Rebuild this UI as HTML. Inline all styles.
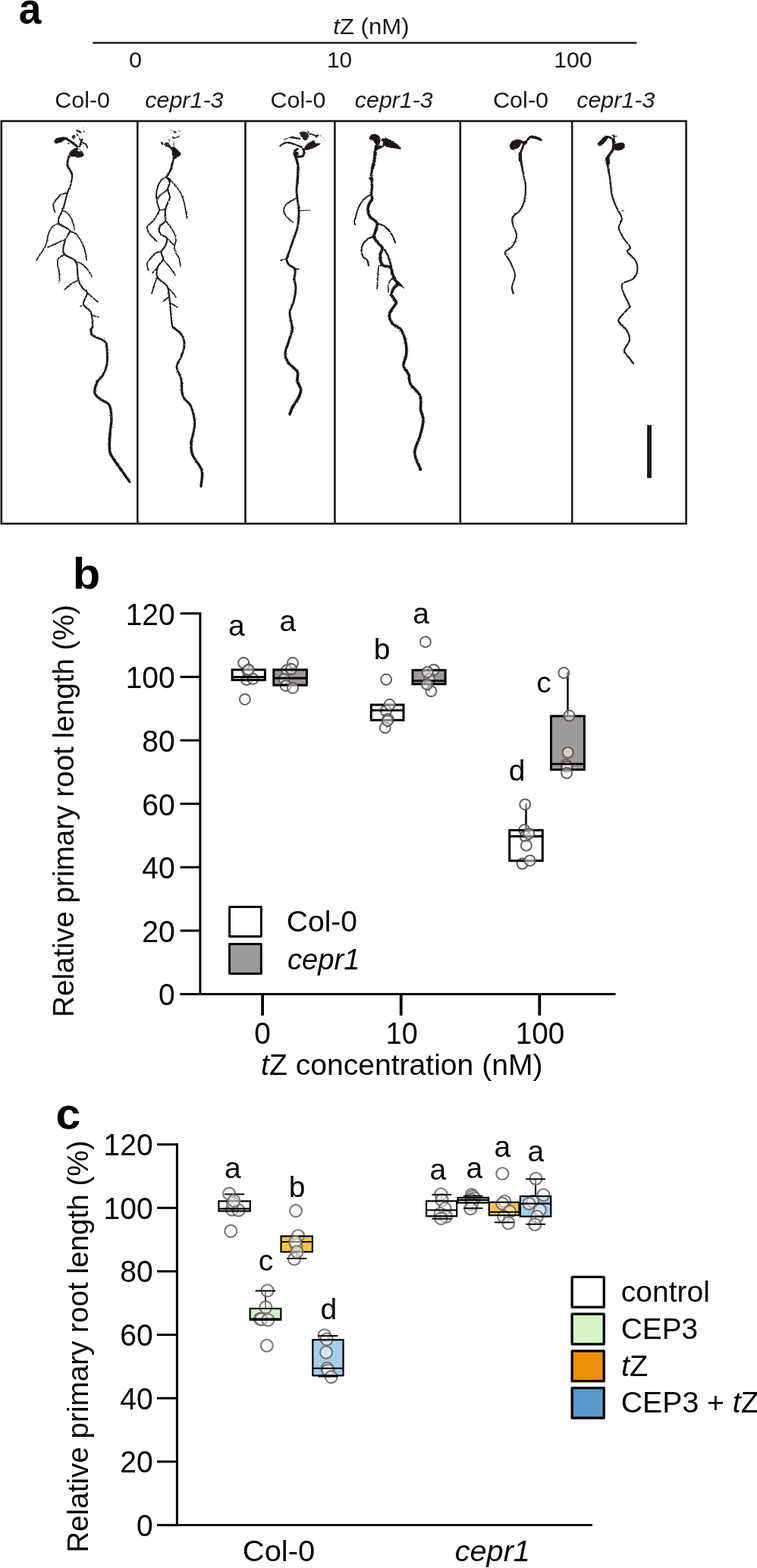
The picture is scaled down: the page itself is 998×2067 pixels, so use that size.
<!DOCTYPE html>
<html lang="en">
<head>
<meta charset="utf-8">
<title>Figure: tZ response of cepr1 roots</title>
<style>
html,body{margin:0;padding:0;background:#fff;}
svg{display:block;}
text{font-family:"Liberation Sans", Arial, Helvetica, sans-serif;fill:#000000;}
.pa text{fill:#1c1815;}
</style>
</head>
<body>
<svg width="998" height="2067" viewBox="0 0 998 2067">
<rect x="0" y="0" width="998" height="2067" fill="#ffffff"/>
<text transform="translate(24.71,31.00) scale(0.9194,1)" font-size="58" font-weight="bold">a</text>
<g style="fill:#1c1815" class="pa">
<text transform="translate(439.35,44.60) scale(1.0547,1)" font-size="29.5"><tspan font-style="italic">t</tspan>Z (nM)</text>
<line x1="122.3" y1="56.5" x2="839.3" y2="56.5" stroke="#1c1815" stroke-width="2.5"/>
<text transform="translate(170.08,88.60) scale(1.0400,1)" font-size="29.5">0</text>
<text transform="translate(430.93,88.60) scale(1.0111,1)" font-size="29.5">10</text>
<text transform="translate(730.19,88.60) scale(1.0245,1)" font-size="29.5">100</text>
<text transform="translate(72.25,142.10) scale(1.0328,1)" font-size="29.5">Col-0</text>
<text transform="translate(356.55,142.10) scale(1.0328,1)" font-size="29.5">Col-0</text>
<text transform="translate(649.94,142.10) scale(1.0387,1)" font-size="29.5">Col-0</text>
<text transform="translate(191.27,142.10) scale(1.0319,1)" font-size="29.5"><tspan font-style="italic">cepr1-3</tspan></text>
<text transform="translate(467.87,142.10) scale(1.0278,1)" font-size="29.5"><tspan font-style="italic">cepr1-3</tspan></text>
<text transform="translate(760.27,142.10) scale(1.0309,1)" font-size="29.5"><tspan font-style="italic">cepr1-3</tspan></text>
</g>
<rect x="1.8" y="159.6" width="902.8000000000001" height="530.6999999999999" fill="none" stroke="#1c1815" stroke-width="2.6"/>
<line x1="181.3" y1="159.6" x2="181.3" y2="690.3" stroke="#1c1815" stroke-width="2.6"/>
<line x1="323.5" y1="159.6" x2="323.5" y2="690.3" stroke="#1c1815" stroke-width="2.6"/>
<line x1="441.4" y1="159.6" x2="441.4" y2="690.3" stroke="#1c1815" stroke-width="2.6"/>
<line x1="606.8" y1="159.6" x2="606.8" y2="690.3" stroke="#1c1815" stroke-width="2.6"/>
<line x1="754.2" y1="159.6" x2="754.2" y2="690.3" stroke="#1c1815" stroke-width="2.6"/>
<rect x="853.1" y="560.3" width="5.8" height="69.9" fill="#1c1815"/>
<defs><filter id="rough" x="-2%" y="-2%" width="104%" height="104%"><feTurbulence type="fractalNoise" baseFrequency="0.8" numOctaves="2" seed="7" result="n"/><feDisplacementMap in="SourceGraphic" in2="n" scale="2.4" xChannelSelector="R" yChannelSelector="G"/></filter></defs><g filter="url(#rough)"><path d="M91.0,206.0 C90.7,208.0 88.3,214.0 89.0,218.0 C89.7,222.0 94.3,225.7 95.0,230.0" fill="none" stroke="#1c1815" stroke-width="2.85" stroke-linecap="round" stroke-linejoin="round"/>
<path d="M95.0,230.0 C95.7,234.3 94.0,240.0 93.0,244.0 C92.0,248.0 90.7,248.7 89.0,254.0 C87.3,259.3 84.8,270.7 83.0,276.0 C81.2,281.3 78.8,282.8 78.0,286.0 C77.2,289.2 75.7,292.0 78.0,295.0 C80.3,298.0 90.7,300.5 92.0,304.0 C93.3,307.5 87.3,311.0 86.0,316.0 C84.7,321.0 81.7,329.2 84.0,334.0 C86.3,338.8 96.8,339.3 100.0,345.0 C103.2,350.7 101.5,362.2 103.0,368.0 C104.5,373.8 107.0,377.0 109.0,380.0 C111.0,383.0 114.8,382.5 115.0,386.0 C115.2,389.5 109.2,396.7 110.0,401.0 C110.8,405.3 118.0,407.2 120.0,412.0 C122.0,416.8 122.0,426.3 122.0,430.0" fill="none" stroke="#1c1815" stroke-width="2.15" stroke-linecap="round" stroke-linejoin="round"/>
<path d="M122.0,430.0 C122.0,433.7 120.0,432.0 120.0,434.0 C120.0,436.0 119.0,439.3 122.0,442.0 C125.0,444.7 134.8,447.0 138.0,450.0 C141.2,453.0 140.5,455.0 141.0,460.0 C141.5,465.0 141.8,474.3 141.0,480.0 C140.2,485.7 138.2,490.0 136.0,494.0 C133.8,498.0 129.8,500.0 128.0,504.0" fill="none" stroke="#1c1815" stroke-width="2.85" stroke-linecap="round" stroke-linejoin="round"/>
<path d="M128.0,504.0 C126.2,508.0 124.3,514.3 125.0,518.0 C125.7,521.7 128.8,523.3 132.0,526.0 C135.2,528.7 141.5,529.7 144.0,534.0 C146.5,538.3 146.8,545.7 147.0,552.0 C147.2,558.3 145.3,564.7 145.0,572.0" fill="none" stroke="#1c1815" stroke-width="3.25" stroke-linecap="round" stroke-linejoin="round"/>
<path d="M145.0,572.0 C144.7,579.3 143.2,589.0 145.0,596.0 C146.8,603.0 151.7,607.5 156.0,614.0 C160.3,620.5 168.5,631.5 171.0,635.0" fill="none" stroke="#1c1815" stroke-width="3.55" stroke-linecap="round" stroke-linejoin="round"/>
<path d="M122.0,430.0 C121.7,430.7 120.0,432.0 120.0,434.0 C120.0,436.0 119.0,439.3 122.0,442.0 C125.0,444.7 134.8,447.0 138.0,450.0 C141.2,453.0 140.5,455.0 141.0,460.0 C141.5,465.0 141.8,474.3 141.0,480.0 C140.2,485.7 138.2,490.0 136.0,494.0 C133.8,498.0 129.8,500.0 128.0,504.0 C126.2,508.0 124.3,514.3 125.0,518.0 C125.7,521.7 128.8,523.3 132.0,526.0 C135.2,528.7 141.5,529.7 144.0,534.0 C146.5,538.3 146.8,545.7 147.0,552.0 C147.2,558.3 145.3,564.7 145.0,572.0 C144.7,579.3 145.0,592.0 145.0,596.0" fill="none" stroke="#1c1815" stroke-opacity="0.2" stroke-width="4.6" stroke-dasharray="0.7 0.9" stroke-linecap="butt"/>
<path d="M89.0,254.0 C87.5,254.5 82.8,255.0 80.0,257.0 C77.2,259.0 73.7,263.8 72.0,266.0 C70.3,268.2 69.9,267.7 70.0,270.0 C70.1,272.3 72.1,278.3 72.5,280.0" fill="none" stroke="#1c1815" stroke-width="1.65" stroke-linecap="round" stroke-linejoin="round"/>
<path d="M83.0,278.0 C83.8,278.3 86.2,278.3 88.0,280.0 C89.8,281.7 92.3,284.7 94.0,288.0 C95.7,291.3 97.3,297.5 98.0,300.0 C98.7,302.5 98.0,302.5 98.0,303.0" fill="none" stroke="#1c1815" stroke-width="1.65" stroke-linecap="round" stroke-linejoin="round"/>
<path d="M78.0,295.0 C76.7,295.5 72.3,295.8 70.0,298.0 C67.7,300.2 65.7,303.7 64.0,308.0 C62.3,312.3 62.7,318.2 60.0,324.0 C57.3,329.8 50.0,339.8 48.0,343.0" fill="none" stroke="#1c1815" stroke-width="1.65" stroke-linecap="round" stroke-linejoin="round"/>
<path d="M92.0,305.0 C93.3,305.5 97.3,305.5 100.0,308.0 C102.7,310.5 105.8,315.7 108.0,320.0 C110.2,324.3 112.0,330.2 113.0,334.0 C114.0,337.8 113.8,341.5 114.0,343.0" fill="none" stroke="#1c1815" stroke-width="1.65" stroke-linecap="round" stroke-linejoin="round"/>
<path d="M86.0,316.0 C85.0,316.3 82.3,317.0 80.0,318.0 C77.7,319.0 74.8,320.7 72.0,322.0 C69.2,323.3 64.5,325.3 63.0,326.0" fill="none" stroke="#1c1815" stroke-width="1.65" stroke-linecap="round" stroke-linejoin="round"/>
<path d="M84.0,336.0 C82.8,336.8 78.3,338.7 77.0,341.0 C75.7,343.3 75.8,347.2 76.0,350.0 C76.2,352.8 77.6,354.3 78.0,358.0 C78.4,361.7 78.4,369.7 78.5,372.0" fill="none" stroke="#1c1815" stroke-width="1.65" stroke-linecap="round" stroke-linejoin="round"/>
<path d="M100.0,345.0 C101.3,345.5 105.3,346.2 108.0,348.0 C110.7,349.8 113.8,353.3 116.0,356.0 C118.2,358.7 120.2,362.7 121.0,364.0" fill="none" stroke="#1c1815" stroke-width="1.65" stroke-linecap="round" stroke-linejoin="round"/>
<path d="M102.0,370.0 C100.7,370.7 96.8,372.0 94.0,374.0 C91.2,376.0 86.5,380.7 85.0,382.0" fill="none" stroke="#1c1815" stroke-width="1.55" stroke-linecap="round" stroke-linejoin="round"/>
<path d="M115.0,386.0 C116.2,387.0 119.7,390.0 122.0,392.0 C124.3,394.0 127.8,397.0 129.0,398.0" fill="none" stroke="#1c1815" stroke-width="1.65" stroke-linecap="round" stroke-linejoin="round"/>
<path d="M110.0,401.0 L106.0,404.0" fill="none" stroke="#1c1815" stroke-width="1.55" stroke-linecap="round" stroke-linejoin="round"/>
<path d="M122.0,416.0 L130.0,418.0" fill="none" stroke="#1c1815" stroke-width="1.55" stroke-linecap="round" stroke-linejoin="round"/>
<path d="M71.9,184.6 C72.9,183.4 76.1,181.7 78.2,181.0 C80.3,180.3 82.9,180.3 84.5,180.5 C86.1,180.7 88.2,181.3 88.0,182.2 C87.8,183.1 85.2,184.8 83.1,185.9 C81.0,187.1 77.2,188.7 75.4,189.1 C73.6,189.5 72.8,189.1 72.2,188.3 C71.6,187.6 70.9,185.8 71.9,184.6Z" fill="#1c1815" fill-opacity="1.0"/>
<path d="M86.5,182.2 C87.6,182.9 91.1,185.2 93.0,186.5 C94.9,187.8 96.5,188.9 98.0,190.0 C99.5,191.1 101.6,192.7 102.3,193.2" fill="none" stroke="#1c1815" stroke-width="2.95" stroke-linecap="round" stroke-linejoin="round"/>
<ellipse cx="90.5" cy="189.2" rx="1.4" ry="0.9" transform="rotate(30 90.5 189.2)" fill="#1c1815" fill-opacity="1.0"/>
<path d="M90.9,203.0 C91.0,201.7 92.9,199.9 94.5,198.5 C96.1,197.1 98.8,195.0 100.7,194.8 C102.6,194.6 104.3,196.1 106.0,197.5 C107.7,198.9 110.2,201.5 110.6,203.0 C111.0,204.5 109.5,205.8 108.5,206.6 C107.5,207.4 106.1,207.8 104.5,207.8 C102.9,207.8 100.8,206.7 99.0,206.5 C97.2,206.3 95.3,207.0 94.0,206.4 C92.7,205.8 90.8,204.3 90.9,203.0Z" fill="#1c1815" fill-opacity="1.0"/>
<ellipse cx="103.8" cy="198.2" rx="2.2" ry="1.2" transform="rotate(20 103.8 198.2)" fill="#ffffff" fill-opacity="1.0"/>
<path d="M108.4,183.7 C108.1,184.5 107.1,186.9 106.5,188.5 C105.9,190.1 105.2,192.4 104.9,193.2" fill="none" stroke="#1c1815" stroke-width="2.35" stroke-linecap="round" stroke-linejoin="round"/>
<path d="M104.9,183.0 C105.6,183.8 107.7,186.8 109.1,188.0 C110.5,189.2 112.3,189.0 113.3,190.2 C114.3,191.4 115.0,194.2 115.3,195.0" fill="none" stroke="#1c1815" stroke-width="1.85" stroke-linecap="round" stroke-linejoin="round"/>
<path d="M100.2,171.3 C100.4,170.9 102.8,171.1 104.0,171.6 C105.2,172.1 107.1,173.5 107.6,174.2 C108.1,174.8 107.6,175.5 106.8,175.5 C106.0,175.5 104.1,175.0 103.0,174.3 C101.9,173.6 100.0,171.8 100.2,171.3Z" fill="#1c1815" fill-opacity="0.9"/>
<path d="M95.2,179.0 C95.8,178.4 97.9,177.9 98.6,178.2 C99.3,178.5 99.7,180.2 99.4,181.0 C99.1,181.8 97.5,182.9 96.8,183.0 C96.1,183.1 95.3,182.2 95.0,181.5 C94.7,180.8 94.6,179.6 95.2,179.0Z" fill="#1c1815" fill-opacity="0.9"/>
<ellipse cx="101.8" cy="177.7" rx="1.8" ry="1.2" transform="rotate(40 101.8 177.7)" fill="#1c1815" fill-opacity="0.85"/>
<ellipse cx="110.5" cy="173.5" rx="1.5" ry="0.9" transform="rotate(60 110.5 173.5)" fill="#1c1815" fill-opacity="0.8"/>
<ellipse cx="104.5" cy="180.5" rx="1.6" ry="0.6" transform="rotate(-10 104.5 180.5)" fill="#1c1815" fill-opacity="0.6"/>
<ellipse cx="109.8" cy="168.6" rx="0.7" ry="0.5" transform="rotate(0 109.8 168.6)" fill="#1c1815" fill-opacity="0.5"/>
<path d="M229.0,208.0 C228.3,210.7 226.5,219.8 225.0,224.0 C223.5,228.2 220.2,230.3 220.0,233.0" fill="none" stroke="#1c1815" stroke-width="2.75" stroke-linecap="round" stroke-linejoin="round"/>
<path d="M220.0,233.0 C219.8,235.7 223.8,237.2 224.0,240.0 C224.2,242.8 221.0,246.7 221.0,250.0 C221.0,253.3 224.5,255.7 224.0,260.0 C223.5,264.3 219.0,270.8 218.0,276.0 C217.0,281.2 219.2,287.3 218.0,291.0 C216.8,294.7 212.2,295.2 211.0,298.0 C209.8,300.8 209.5,305.3 211.0,308.0 C212.5,310.7 218.8,311.3 220.0,314.0 C221.2,316.7 219.2,321.0 218.0,324.0 C216.8,327.0 213.0,329.0 212.5,332.0 C212.0,335.0 215.8,338.7 215.0,342.0 C214.2,345.3 209.2,348.0 208.0,352.0 C206.8,356.0 206.0,361.8 208.0,366.0 C210.0,370.2 217.5,373.0 220.0,377.0 C222.5,381.0 222.2,384.5 223.0,390.0 C223.8,395.5 224.3,403.3 225.0,410.0 C225.7,416.7 226.3,426.3 227.0,430.0" fill="none" stroke="#1c1815" stroke-width="2.15" stroke-linecap="round" stroke-linejoin="round"/>
<path d="M227.0,430.0 C227.7,433.7 226.8,430.0 229.0,432.0 C231.2,434.0 237.7,438.0 240.0,442.0 C242.3,446.0 243.2,451.3 243.0,456.0 C242.8,460.7 240.7,465.3 239.0,470.0 C237.3,474.7 233.0,479.0 233.0,484.0 C233.0,489.0 237.7,493.7 239.0,500.0" fill="none" stroke="#1c1815" stroke-width="2.65" stroke-linecap="round" stroke-linejoin="round"/>
<path d="M239.0,500.0 C240.3,506.3 238.8,516.0 241.0,522.0 C243.2,528.0 249.4,529.7 252.0,536.0 C254.6,542.3 256.6,552.0 256.6,560.0 C256.6,568.0 252.4,577.3 252.0,584.0" fill="none" stroke="#1c1815" stroke-width="3.05" stroke-linecap="round" stroke-linejoin="round"/>
<path d="M252.0,584.0 C251.6,590.7 251.7,594.0 254.0,600.0 C256.3,606.0 264.2,613.2 266.0,620.0 C267.8,626.8 265.2,637.5 265.0,641.0" fill="none" stroke="#1c1815" stroke-width="3.45" stroke-linecap="round" stroke-linejoin="round"/>
<path d="M227.0,430.0 C227.3,430.3 226.8,430.0 229.0,432.0 C231.2,434.0 237.7,438.0 240.0,442.0 C242.3,446.0 243.2,451.3 243.0,456.0 C242.8,460.7 240.7,465.3 239.0,470.0 C237.3,474.7 233.0,479.0 233.0,484.0 C233.0,489.0 237.7,493.7 239.0,500.0 C240.3,506.3 238.8,516.0 241.0,522.0 C243.2,528.0 249.4,529.7 252.0,536.0 C254.6,542.3 256.6,552.0 256.6,560.0 C256.6,568.0 252.4,577.3 252.0,584.0 C251.6,590.7 253.7,597.3 254.0,600.0" fill="none" stroke="#1c1815" stroke-opacity="0.18" stroke-width="4.4" stroke-dasharray="0.7 0.9" stroke-linecap="butt"/>
<path d="M220.0,233.0 C218.8,233.7 215.0,234.8 213.0,237.0 C211.0,239.2 209.2,242.5 208.0,246.0 C206.8,249.5 206.0,254.0 206.0,258.0 C206.0,262.0 207.3,266.8 208.0,270.0 C208.7,273.2 210.8,273.7 210.0,277.0 C209.2,280.3 205.7,286.3 203.0,290.0 C200.3,293.7 195.0,296.0 194.0,299.0 C193.0,302.0 194.9,304.8 197.0,308.0 C199.1,311.2 204.9,316.3 206.5,318.0" fill="none" stroke="#1c1815" stroke-width="1.85" stroke-linecap="round" stroke-linejoin="round"/>
<path d="M221.0,250.0 C219.7,251.0 215.3,254.0 213.0,256.0 C210.7,258.0 208.0,261.0 207.0,262.0" fill="none" stroke="#1c1815" stroke-width="1.65" stroke-linecap="round" stroke-linejoin="round"/>
<path d="M210.0,277.0 L218.0,276.0" fill="none" stroke="#1c1815" stroke-width="1.55" stroke-linecap="round" stroke-linejoin="round"/>
<path d="M220.0,233.0 C221.3,234.3 225.0,237.5 228.0,241.0 C231.0,244.5 235.5,249.5 238.0,254.0 C240.5,258.5 241.6,262.3 243.0,268.0 C244.4,273.7 245.9,284.7 246.5,288.0" fill="none" stroke="#1c1815" stroke-width="1.65" stroke-linecap="round" stroke-linejoin="round"/>
<path d="M218.0,291.0 C219.0,292.2 222.0,295.2 224.0,298.0 C226.0,300.8 228.7,305.0 230.0,308.0 C231.3,311.0 232.0,313.0 232.0,316.0 C232.0,319.0 230.0,323.0 230.0,326.0 C230.0,329.0 231.0,331.7 232.0,334.0 C233.0,336.3 235.0,337.2 236.0,340.0 C237.0,342.8 237.7,349.2 238.0,351.0" fill="none" stroke="#1c1815" stroke-width="1.65" stroke-linecap="round" stroke-linejoin="round"/>
<path d="M220.0,314.0 L230.0,324.0" fill="none" stroke="#1c1815" stroke-width="1.65" stroke-linecap="round" stroke-linejoin="round"/>
<path d="M212.5,332.0 C211.4,332.2 208.2,331.7 206.0,333.0 C203.8,334.3 201.0,337.7 199.0,340.0 C197.0,342.3 194.6,344.2 194.0,347.0 C193.4,349.8 195.3,355.3 195.6,357.0" fill="none" stroke="#1c1815" stroke-width="1.65" stroke-linecap="round" stroke-linejoin="round"/>
<path d="M215.0,342.0 C216.2,343.3 219.8,347.3 222.0,350.0 C224.2,352.7 226.5,355.8 228.0,358.0 C229.5,360.2 230.5,362.2 231.0,363.0" fill="none" stroke="#1c1815" stroke-width="1.65" stroke-linecap="round" stroke-linejoin="round"/>
<path d="M208.0,352.0 L201.0,360.0" fill="none" stroke="#1c1815" stroke-width="1.55" stroke-linecap="round" stroke-linejoin="round"/>
<path d="M207.0,366.0 C206.5,367.3 205.2,370.5 204.0,374.0 C202.8,377.5 200.7,384.8 200.0,387.0" fill="none" stroke="#1c1815" stroke-width="1.55" stroke-linecap="round" stroke-linejoin="round"/>
<path d="M222.0,380.0 C223.0,381.0 226.3,384.0 228.0,386.0 C229.7,388.0 231.3,391.0 232.0,392.0" fill="none" stroke="#1c1815" stroke-width="1.55" stroke-linecap="round" stroke-linejoin="round"/>
<path d="M222.0,392.0 L215.0,397.0" fill="none" stroke="#1c1815" stroke-width="1.55" stroke-linecap="round" stroke-linejoin="round"/>
<path d="M224.0,399.0 L233.7,405.0" fill="none" stroke="#1c1815" stroke-width="1.55" stroke-linecap="round" stroke-linejoin="round"/>
<path d="M227.3,193.4 C228.2,192.7 230.2,194.1 231.6,195.0 C233.0,195.9 234.3,197.7 235.5,199.0 C236.7,200.3 238.6,201.8 238.8,202.9 C239.0,204.0 237.5,204.8 236.5,205.6 C235.5,206.4 234.1,207.1 233.0,207.8 C231.9,208.5 231.1,210.0 230.2,209.8 C229.3,209.6 228.4,208.5 227.8,206.8 C227.2,205.1 226.6,201.7 226.5,199.5 C226.4,197.3 226.5,194.2 227.3,193.4Z" fill="#1c1815" fill-opacity="1.0"/>
<path d="M211.8,187.3 C212.0,186.8 214.0,187.1 214.6,187.6 C215.2,188.1 215.4,189.6 215.2,190.2 C215.0,190.8 213.9,191.4 213.3,190.9 C212.7,190.4 211.6,187.9 211.8,187.3Z" fill="#1c1815" fill-opacity="0.95"/>
<path d="M216.0,190.3 C216.2,189.4 218.0,187.9 219.0,187.6 C220.0,187.3 221.1,187.7 222.0,188.3 C222.9,189.0 223.3,190.3 224.2,191.5 C225.1,192.7 227.1,194.3 227.5,195.5 C227.9,196.7 227.3,198.7 226.5,198.5 C225.7,198.3 223.9,195.4 222.5,194.5 C221.1,193.6 219.1,193.5 218.0,192.8 C216.9,192.1 215.8,191.2 216.0,190.3Z" fill="#1c1815" fill-opacity="0.9"/>
<ellipse cx="230.6" cy="174.0" rx="2.6" ry="1.3" transform="rotate(30 230.6 174.0)" fill="#1c1815" fill-opacity="0.85"/>
<ellipse cx="226.0" cy="172.0" rx="1.6" ry="0.7" transform="rotate(10 226.0 172.0)" fill="#1c1815" fill-opacity="0.55"/>
<ellipse cx="236.2" cy="173.0" rx="1.8" ry="0.7" transform="rotate(35 236.2 173.0)" fill="#1c1815" fill-opacity="0.6"/>
<ellipse cx="238.6" cy="176.3" rx="0.9" ry="0.6" transform="rotate(60 238.6 176.3)" fill="#1c1815" fill-opacity="0.5"/>
<path d="M227.4,180.0 C227.9,179.8 229.5,180.2 230.0,180.6 C230.5,181.0 230.8,182.0 230.6,182.4 C230.4,182.8 229.2,183.0 228.6,182.9 C228.0,182.8 227.4,182.3 227.2,181.8 C227.0,181.3 226.9,180.2 227.4,180.0Z" fill="#1c1815" fill-opacity="0.9"/>
<path d="M230.8,181.8 C231.3,181.6 233.0,181.2 234.0,180.8 C235.0,180.4 236.2,179.6 236.6,179.4" fill="none" stroke="#1c1815" stroke-width="1.25" stroke-linecap="round" stroke-linejoin="round"/>
<ellipse cx="222.6" cy="184.8" rx="1.9" ry="0.9" transform="rotate(35 222.6 184.8)" fill="#1c1815" fill-opacity="0.85"/>
<ellipse cx="217.0" cy="181.5" rx="1.0" ry="0.4" transform="rotate(0 217.0 181.5)" fill="#1c1815" fill-opacity="0.5"/>
<ellipse cx="220.2" cy="181.2" rx="0.8" ry="0.4" transform="rotate(0 220.2 181.2)" fill="#1c1815" fill-opacity="0.5"/>
<ellipse cx="229.6" cy="186.6" rx="1.2" ry="0.6" transform="rotate(0 229.6 186.6)" fill="#1c1815" fill-opacity="0.5"/>
<path d="M229.0,188.5 L229.0,193.0" fill="none" stroke="#1c1815" stroke-width="1.05" stroke-linecap="round" stroke-linejoin="round"/>
<path d="M390.0,207.0 C390.5,209.2 392.7,214.5 393.0,220.0 C393.3,225.5 392.3,235.0 392.0,240.0" fill="none" stroke="#1c1815" stroke-width="3.25" stroke-linecap="round" stroke-linejoin="round"/>
<path d="M392.0,240.0 C391.7,245.0 391.0,246.3 391.0,250.0 C391.0,253.7 391.5,257.3 392.0,262.0 C392.5,266.7 393.9,272.0 394.0,278.0 C394.1,284.0 393.9,291.3 392.6,298.0 C391.3,304.7 387.8,312.7 386.0,318.0 C384.2,323.3 383.3,326.0 382.0,330.0 C380.7,334.0 378.2,338.8 378.0,342.0 C377.8,345.2 379.2,346.8 381.0,349.0 C382.8,351.2 387.8,351.8 389.0,355.0 C390.2,358.2 387.8,363.8 388.0,368.0 C388.2,372.2 390.2,375.0 390.0,380.0 C389.8,385.0 388.3,392.7 387.0,398.0 C385.7,403.3 382.3,406.7 382.0,412.0 C381.7,417.3 384.5,426.0 385.0,430.0" fill="none" stroke="#1c1815" stroke-width="2.75" stroke-linecap="round" stroke-linejoin="round"/>
<path d="M385.0,430.0 C385.5,434.0 385.8,432.3 385.0,436.0 C384.2,439.7 381.5,447.0 380.0,452.0 C378.5,457.0 376.0,461.7 376.0,466.0 C376.0,470.3 377.3,474.0 380.0,478.0" fill="none" stroke="#1c1815" stroke-width="3.15" stroke-linecap="round" stroke-linejoin="round"/>
<path d="M380.0,478.0 C382.7,482.0 390.0,486.0 392.0,490.0 C394.0,494.0 391.2,498.0 392.0,502.0 C392.8,506.0 396.5,510.0 396.6,514.0 C396.7,518.0 394.4,522.3 392.6,526.0 C390.8,529.7 387.8,532.7 386.0,536.0 C384.2,539.3 382.7,544.3 382.0,546.0" fill="none" stroke="#1c1815" stroke-width="3.65" stroke-linecap="round" stroke-linejoin="round"/>
<path d="M390.0,207.0 C390.5,209.2 392.7,214.5 393.0,220.0 C393.3,225.5 392.3,235.0 392.0,240.0 C391.7,245.0 391.0,246.3 391.0,250.0 C391.0,253.7 391.5,257.3 392.0,262.0 C392.5,266.7 393.9,272.0 394.0,278.0 C394.1,284.0 393.9,291.3 392.6,298.0 C391.3,304.7 387.8,312.7 386.0,318.0 C384.2,323.3 383.3,326.0 382.0,330.0 C380.7,334.0 378.2,338.8 378.0,342.0 C377.8,345.2 379.2,346.8 381.0,349.0 C382.8,351.2 387.8,351.8 389.0,355.0 C390.2,358.2 387.8,363.8 388.0,368.0 C388.2,372.2 390.2,375.0 390.0,380.0 C389.8,385.0 388.3,392.7 387.0,398.0 C385.7,403.3 382.3,406.7 382.0,412.0 C381.7,417.3 384.5,426.0 385.0,430.0 C385.5,434.0 385.8,432.3 385.0,436.0 C384.2,439.7 381.5,447.0 380.0,452.0 C378.5,457.0 376.0,461.7 376.0,466.0 C376.0,470.3 377.3,474.0 380.0,478.0 C382.7,482.0 390.0,486.0 392.0,490.0 C394.0,494.0 391.2,498.0 392.0,502.0 C392.8,506.0 396.5,510.0 396.6,514.0 C396.7,518.0 394.4,522.3 392.6,526.0 C390.8,529.7 387.8,532.7 386.0,536.0 C384.2,539.3 382.7,544.3 382.0,546.0" fill="none" stroke="#1c1815" stroke-opacity="0.22" stroke-width="4.8" stroke-dasharray="0.7 0.9" stroke-linecap="butt"/>
<path d="M391.0,261.0 C389.8,261.7 386.3,263.5 384.0,265.0 C381.7,266.5 378.7,267.8 377.0,270.0 C375.3,272.2 373.8,275.3 374.0,278.0 C374.2,280.7 376.0,283.5 378.0,286.0 C380.0,288.5 384.7,291.8 386.0,293.0" fill="none" stroke="#1c1815" stroke-width="1.65" stroke-linecap="round" stroke-linejoin="round"/>
<path d="M394.0,278.0 L408.0,277.0" fill="none" stroke="#1c1815" stroke-width="1.25" stroke-linecap="round" stroke-linejoin="round"/>
<path d="M378.0,341.0 L370.0,343.0" fill="none" stroke="#1c1815" stroke-width="1.55" stroke-linecap="round" stroke-linejoin="round"/>
<path d="M389.0,354.0 L394.0,355.0" fill="none" stroke="#1c1815" stroke-width="1.55" stroke-linecap="round" stroke-linejoin="round"/>
<path d="M369.4,192.4 C370.2,191.8 372.6,189.8 374.4,189.0 C376.2,188.2 377.7,187.6 380.0,187.8 C382.3,188.0 385.2,189.2 388.1,190.2 C391.0,191.2 395.9,193.4 397.5,194.0" fill="none" stroke="#1c1815" stroke-width="2.25" stroke-linecap="round" stroke-linejoin="round"/>
<path d="M383.4,181.2 C384.3,181.3 387.1,181.3 389.0,181.6 C390.9,181.9 394.0,182.7 395.0,182.9" fill="none" stroke="#1c1815" stroke-width="2.35" stroke-linecap="round" stroke-linejoin="round"/>
<path d="M374.0,184.2 C374.8,183.9 377.4,183.1 379.0,182.6 C380.6,182.1 382.7,181.4 383.4,181.2" fill="none" stroke="#1c1815" stroke-width="0.95" stroke-linecap="round" stroke-linejoin="round"/>
<path d="M394.8,175.0 C395.0,173.8 397.5,173.5 399.0,173.4 C400.5,173.3 402.7,173.5 404.0,174.2 C405.3,174.9 406.6,176.3 407.0,177.5 C407.4,178.7 407.2,180.2 406.6,181.5 C406.0,182.8 404.5,184.6 403.5,185.0 C402.5,185.4 401.5,184.9 400.5,184.2 C399.5,183.4 398.6,182.0 397.6,180.5 C396.7,179.0 394.6,176.2 394.8,175.0Z" fill="#1c1815" fill-opacity="0.95"/>
<path d="M405.2,174.2 C405.0,173.8 406.1,171.8 406.5,171.9 C406.9,172.0 407.8,174.2 407.6,174.6 C407.4,175.0 405.4,174.6 405.2,174.2Z" fill="#1c1815" fill-opacity="1.0"/>
<path d="M407.3,175.6 C408.0,175.9 410.0,176.9 411.5,177.4 C413.0,177.9 415.3,178.6 416.1,178.8" fill="none" stroke="#1c1815" stroke-width="1.55" stroke-linecap="round" stroke-linejoin="round"/>
<path d="M415.4,178.0 C415.8,177.5 417.1,177.1 418.0,177.2 C418.9,177.3 420.6,178.1 420.8,178.6 C421.0,179.1 419.7,179.4 419.0,180.0 C418.3,180.6 417.4,181.9 416.8,182.0 C416.2,182.1 415.8,181.1 415.6,180.4 C415.4,179.7 415.0,178.5 415.4,178.0Z" fill="#1c1815" fill-opacity="0.9"/>
<ellipse cx="423.2" cy="179.2" rx="1.3" ry="0.6" transform="rotate(30 423.2 179.2)" fill="#1c1815" fill-opacity="0.55"/>
<ellipse cx="426.6" cy="181.8" rx="1.1" ry="0.6" transform="rotate(60 426.6 181.8)" fill="#1c1815" fill-opacity="0.5"/>
<ellipse cx="428.6" cy="185.2" rx="0.9" ry="0.6" transform="rotate(70 428.6 185.2)" fill="#1c1815" fill-opacity="0.45"/>
<path d="M400.9,195.9 C400.9,194.6 402.8,191.8 404.9,190.0 C407.0,188.2 411.9,185.4 413.7,185.1 C415.4,184.8 413.9,187.7 415.4,188.4 C416.9,189.1 422.2,188.4 422.6,189.2 C423.0,190.0 419.4,191.9 417.7,193.0 C415.9,194.1 414.2,195.0 412.1,195.8 C410.0,196.6 406.8,197.8 404.9,197.8 C403.0,197.8 400.9,197.2 400.9,195.9Z" fill="#1c1815" fill-opacity="1.0"/>
<path d="M392.1,196.3 C391.5,196.9 388.8,198.2 388.3,199.7 C387.8,201.1 388.0,203.8 388.9,205.0 C389.8,206.2 391.9,206.6 393.7,206.6 C395.5,206.6 398.6,206.4 399.8,205.0 C401.0,203.6 400.8,199.7 400.7,198.3 C400.6,196.9 399.7,196.9 399.5,196.6" fill="none" stroke="#1c1815" stroke-width="2.95" stroke-linecap="round" stroke-linejoin="round"/>
<ellipse cx="391.0" cy="202.5" rx="2.6" ry="2.8" transform="rotate(0 391.0 202.5)" fill="#1c1815" fill-opacity="1.0"/>
<path d="M495.5,195.0 C495.2,197.5 494.4,205.5 493.6,210.0 C492.9,214.5 491.7,218.7 491.0,222.0" fill="none" stroke="#1c1815" stroke-width="3.95" stroke-linecap="round" stroke-linejoin="round"/>
<path d="M491.0,222.0 C490.3,225.3 489.7,226.2 489.6,230.0 C489.5,233.8 490.6,240.5 490.6,245.0 C490.6,249.5 489.6,254.2 489.6,257.0 C489.6,259.8 491.2,259.8 490.6,262.0" fill="none" stroke="#1c1815" stroke-width="3.05" stroke-linecap="round" stroke-linejoin="round"/>
<path d="M490.6,262.0 C490.0,264.2 487.0,267.3 486.1,270.0 C485.2,272.7 484.8,275.3 485.1,278.0 C485.4,280.7 486.1,283.3 488.1,286.0 C490.1,288.7 495.9,291.0 497.1,294.0 C498.3,297.0 495.8,301.0 495.1,304.0 C494.4,307.0 492.8,309.5 493.1,312.0 C493.4,314.5 495.3,316.5 497.1,319.0 C498.9,321.5 503.4,324.2 504.1,327.0" fill="none" stroke="#1c1815" stroke-width="3.65" stroke-linecap="round" stroke-linejoin="round"/>
<path d="M504.1,327.0 C504.8,329.8 501.4,333.0 501.1,336.0 C500.8,339.0 501.4,342.7 502.1,345.0 C502.8,347.3 502.9,348.7 505.1,350.0 C507.3,351.3 513.1,351.0 515.1,352.7 C517.1,354.4 516.3,357.4 517.1,360.0 C517.9,362.6 518.9,365.7 520.1,368.0 C521.3,370.3 524.3,372.0 524.1,374.0 C523.9,376.0 520.4,377.7 519.1,380.0 C517.8,382.3 515.9,385.5 516.1,388.0 C516.3,390.5 519.1,393.0 520.1,395.0 C521.1,397.0 523.0,397.2 522.0,400.0" fill="none" stroke="#1c1815" stroke-width="3.75" stroke-linecap="round" stroke-linejoin="round"/>
<path d="M522.0,400.0 C521.0,402.8 515.3,408.7 514.0,412.0 C512.7,415.3 513.3,417.5 514.0,420.0 C514.7,422.5 515.5,424.5 518.0,427.0 C520.5,429.5 526.2,430.8 529.0,435.0 C531.8,439.2 533.9,446.5 535.0,452.0 C536.1,457.5 536.1,463.0 535.6,468.0 C535.1,473.0 531.4,477.7 532.0,482.0 C532.6,486.3 537.5,490.0 539.0,494.0 C540.5,498.0 538.5,501.3 541.0,506.0 C543.5,510.7 551.7,516.3 554.0,522.0 C556.3,527.7 553.9,534.7 554.6,540.0 C555.3,545.3 558.1,548.3 558.0,554.0 C557.9,559.7 555.9,566.8 554.0,574.0 C552.1,581.2 546.5,589.5 546.6,597.0 C546.7,604.5 553.3,615.3 554.6,619.0" fill="none" stroke="#1c1815" stroke-width="3.55" stroke-linecap="round" stroke-linejoin="round"/>
<path d="M495.5,195.0 C495.2,197.5 494.4,205.5 493.6,210.0 C492.9,214.5 491.7,218.7 491.0,222.0 C490.3,225.3 489.7,226.2 489.6,230.0 C489.5,233.8 490.6,240.5 490.6,245.0 C490.6,249.5 489.6,254.2 489.6,257.0 C489.6,259.8 491.2,259.8 490.6,262.0 C490.0,264.2 487.0,267.3 486.1,270.0 C485.2,272.7 484.8,275.3 485.1,278.0 C485.4,280.7 486.1,283.3 488.1,286.0 C490.1,288.7 495.9,291.0 497.1,294.0 C498.3,297.0 495.8,301.0 495.1,304.0 C494.4,307.0 492.8,309.5 493.1,312.0 C493.4,314.5 495.3,316.5 497.1,319.0 C498.9,321.5 503.4,324.2 504.1,327.0 C504.8,329.8 501.4,333.0 501.1,336.0 C500.8,339.0 501.4,342.7 502.1,345.0 C502.8,347.3 502.9,348.7 505.1,350.0 C507.3,351.3 513.1,351.0 515.1,352.7 C517.1,354.4 516.3,357.4 517.1,360.0 C517.9,362.6 518.9,365.7 520.1,368.0 C521.3,370.3 524.3,372.0 524.1,374.0 C523.9,376.0 520.4,377.7 519.1,380.0 C517.8,382.3 515.9,385.5 516.1,388.0 C516.3,390.5 519.1,393.0 520.1,395.0 C521.1,397.0 523.0,397.2 522.0,400.0 C521.0,402.8 515.3,408.7 514.0,412.0 C512.7,415.3 513.3,417.5 514.0,420.0 C514.7,422.5 515.5,424.5 518.0,427.0 C520.5,429.5 526.2,430.8 529.0,435.0 C531.8,439.2 533.9,446.5 535.0,452.0 C536.1,457.5 536.1,463.0 535.6,468.0 C535.1,473.0 531.4,477.7 532.0,482.0 C532.6,486.3 537.5,490.0 539.0,494.0 C540.5,498.0 538.5,501.3 541.0,506.0 C543.5,510.7 551.7,516.3 554.0,522.0 C556.3,527.7 553.9,534.7 554.6,540.0 C555.3,545.3 558.1,548.3 558.0,554.0 C557.9,559.7 555.9,566.8 554.0,574.0 C552.1,581.2 546.5,589.5 546.6,597.0 C546.7,604.5 553.3,615.3 554.6,619.0" fill="none" stroke="#1c1815" stroke-opacity="0.2" stroke-width="5.2" stroke-dasharray="0.7 0.9" stroke-linecap="butt"/>
<ellipse cx="489.6" cy="235.8" rx="2.6" ry="2.3" transform="rotate(0 489.6 235.8)" fill="#1c1815" fill-opacity="1.0"/>
<path d="M507.1,329.0 C507.9,330.7 510.8,335.7 512.1,339.0 C513.4,342.3 514.4,346.7 515.1,349.0 C515.8,351.3 515.9,352.1 516.1,352.7" fill="none" stroke="#1c1815" stroke-width="2.45" stroke-linecap="round" stroke-linejoin="round"/>
<path d="M488.1,257.0 C487.3,257.5 485.0,258.5 483.1,260.0 C481.2,261.5 478.9,263.5 477.0,266.0 C475.1,268.5 473.3,271.7 472.0,275.0 C470.7,278.3 469.8,283.2 469.0,286.0 C468.2,288.8 467.1,290.3 467.0,292.0 C466.9,293.7 468.2,295.3 468.5,296.0" fill="none" stroke="#1c1815" stroke-width="1.85" stroke-linecap="round" stroke-linejoin="round"/>
<path d="M497.1,294.6 C498.4,295.0 502.6,295.6 505.1,297.0 C507.6,298.4 509.9,300.5 512.1,303.0 C514.3,305.5 516.6,309.2 518.1,312.0 C519.6,314.8 520.6,318.7 521.1,320.0" fill="none" stroke="#1c1815" stroke-width="1.95" stroke-linecap="round" stroke-linejoin="round"/>
<path d="M492.6,311.7 C491.4,312.2 487.4,313.4 485.1,315.0 C482.8,316.6 480.4,318.5 479.0,321.0 C477.6,323.5 476.5,327.0 476.5,330.0 C476.5,333.0 477.7,336.8 479.0,339.0 C480.3,341.2 483.0,341.2 484.1,343.0 C485.2,344.8 485.6,348.8 485.9,350.0" fill="none" stroke="#1c1815" stroke-width="2.15" stroke-linecap="round" stroke-linejoin="round"/>
<path d="M502.1,350.0 C501.6,350.3 499.8,349.5 499.1,352.0 C498.4,354.5 498.4,360.2 498.1,365.0 C497.8,369.8 497.3,378.3 497.1,381.0" fill="none" stroke="#1c1815" stroke-width="1.65" stroke-linecap="round" stroke-linejoin="round"/>
<path d="M517.1,367.0 C516.4,367.8 514.0,370.2 513.1,372.0 C512.2,373.8 511.7,375.8 511.6,378.0 C511.5,380.2 512.2,383.8 512.3,385.0" fill="none" stroke="#1c1815" stroke-width="1.55" stroke-linecap="round" stroke-linejoin="round"/>
<path d="M521.5,370.5 C522.0,369.8 523.8,369.6 525.8,371.2 C527.8,372.8 533.1,379.2 533.4,380.2 C533.7,381.2 529.3,378.0 527.5,377.2 C525.7,376.4 523.5,376.6 522.5,375.5 C521.5,374.4 521.0,371.2 521.5,370.5Z" fill="#1c1815" fill-opacity="1.0"/>
<path d="M514.0,389.3 L516.6,388.6" fill="none" stroke="#1c1815" stroke-width="1.35" stroke-linecap="round" stroke-linejoin="round"/>
<path d="M486.8,182.9 C486.5,181.6 488.7,178.6 490.0,177.6 C491.3,176.6 493.2,176.4 494.8,176.7 C496.4,177.0 498.6,178.0 499.7,179.2 C500.8,180.3 501.3,181.9 501.4,183.6 C501.5,185.3 501.2,187.9 500.5,189.3 C499.8,190.7 498.4,191.9 497.3,191.8 C496.2,191.7 494.9,189.6 494.0,188.5 C493.1,187.4 492.8,186.2 491.6,185.3 C490.4,184.4 487.1,184.2 486.8,182.9Z" fill="#1c1815" fill-opacity="1.0"/>
<path d="M502.3,185.2 C502.6,183.5 504.3,181.8 506.9,181.9 C509.5,182.0 514.5,183.8 518.1,186.0 C521.7,188.2 527.0,193.1 528.6,194.9 C530.2,196.7 528.9,196.4 527.7,196.6 C526.5,196.8 523.7,196.1 521.3,195.8 C518.9,195.5 516.0,195.3 513.3,194.6 C510.6,193.9 507.1,193.4 505.3,191.8 C503.5,190.2 502.0,186.8 502.3,185.2Z" fill="#1c1815" fill-opacity="1.0"/>
<path d="M494.5,191.0 C495.5,190.2 498.0,191.6 500.0,191.8 C502.0,192.0 506.0,191.7 506.5,192.2 C507.0,192.7 504.5,194.2 503.0,195.0 C501.5,195.8 499.0,196.9 497.5,197.2 C496.0,197.4 494.7,197.5 494.2,196.5 C493.7,195.5 493.5,191.8 494.5,191.0Z" fill="#1c1815" fill-opacity="1.0"/>
<ellipse cx="503.1" cy="188.3" rx="1.9" ry="2.8" transform="rotate(15 503.1 188.3)" fill="#ffffff" fill-opacity="1.0"/>
<path d="M687.0,210.0 C687.5,213.3 689.0,224.0 690.0,230.0 C691.0,236.0 692.8,240.0 693.0,246.0 C693.2,252.0 692.3,260.7 691.0,266.0 C689.7,271.3 687.5,274.7 685.0,278.0 C682.5,281.3 677.5,283.0 676.0,286.0 C674.5,289.0 675.2,292.0 676.0,296.0 C676.8,300.0 681.0,305.3 681.0,310.0 C681.0,314.7 678.5,320.2 676.0,324.0 C673.5,327.8 666.4,329.7 665.7,333.0 C665.0,336.3 669.8,339.2 672.0,344.0 C674.2,348.8 678.5,356.3 679.0,362.0 C679.5,367.7 675.4,373.8 675.0,378.0 C674.6,382.2 676.3,385.5 676.6,387.0" fill="none" stroke="#1c1815" stroke-width="1.95" stroke-linecap="round" stroke-linejoin="round"/>
<path d="M689.5,226.0 C689.9,228.3 691.4,236.0 692.0,240.0 C692.6,244.0 693.1,246.0 693.0,250.0 C692.9,254.0 692.7,259.5 691.5,264.0 C690.3,268.5 688.2,273.7 686.0,277.0 C683.8,280.3 679.7,281.2 678.0,284.0 C676.3,286.8 676.3,292.3 676.0,294.0" fill="none" stroke="#1c1815" stroke-opacity="0.28" stroke-width="4.6" stroke-dasharray="0.7 0.9" stroke-linecap="butt"/>
<path d="M668.0,331.0 C668.7,333.2 670.7,340.2 672.0,344.0 C673.3,347.8 675.3,352.3 676.0,354.0" fill="none" stroke="#1c1815" stroke-opacity="0.22" stroke-width="3.6" stroke-dasharray="0.7 0.9" stroke-linecap="butt"/>
<ellipse cx="679.4" cy="190.6" rx="8.4" ry="5.9" transform="rotate(-37 679.4 190.6)" fill="#1c1815" fill-opacity="1.0"/>
<path d="M685.5,186.2 C686.2,186.4 688.7,187.4 690.0,187.6 C691.3,187.8 692.8,187.6 693.4,187.6" fill="none" stroke="#1c1815" stroke-width="3.95" stroke-linecap="round" stroke-linejoin="round"/>
<path d="M692.6,188.4 C693.1,187.7 694.5,185.7 695.6,184.4 C696.7,183.1 698.4,181.2 699.0,180.6" fill="none" stroke="#1c1815" stroke-width="2.85" stroke-linecap="round" stroke-linejoin="round"/>
<path d="M698.2,180.9 C698.0,180.4 699.1,179.2 700.7,179.1 C702.3,178.9 705.6,179.4 707.7,180.0 C709.8,180.6 712.1,181.6 713.3,182.4 C714.5,183.2 714.9,184.0 714.9,184.6 C714.9,185.2 714.4,185.9 713.3,185.8 C712.2,185.7 710.3,184.6 708.4,184.0 C706.5,183.4 703.8,182.8 702.1,182.3 C700.4,181.8 698.4,181.4 698.2,180.9Z" fill="#1c1815" fill-opacity="1.0"/>
<path d="M691.0,189.2 C690.5,190.5 688.9,194.5 688.0,197.0 C687.1,199.5 685.8,202.8 685.4,204.0" fill="none" stroke="#1c1815" stroke-width="2.85" stroke-linecap="round" stroke-linejoin="round"/>
<path d="M685.8,203.5 L685.9,211.0" fill="none" stroke="#1c1815" stroke-width="4.55" stroke-linecap="round" stroke-linejoin="round"/>
<path d="M686.5,210.5 C686.7,211.8 687.4,215.6 687.8,218.0 C688.2,220.4 688.8,223.8 689.0,225.0" fill="none" stroke="#1c1815" stroke-width="2.55" stroke-linecap="round" stroke-linejoin="round"/>
<path d="M800.0,212.0 C800.7,215.7 802.8,226.3 804.0,234.0 C805.2,241.7 805.3,251.0 807.0,258.0 C808.7,265.0 811.8,271.0 814.0,276.0 C816.2,281.0 819.7,284.0 820.0,288.0 C820.3,292.0 815.4,295.7 815.7,300.0 C816.0,304.3 819.5,309.7 822.0,314.0 C824.5,318.3 830.2,323.0 831.0,326.0 C831.8,329.0 825.8,329.0 827.0,332.0 C828.2,335.0 835.8,339.7 838.0,344.0 C840.2,348.3 840.7,354.0 840.0,358.0 C839.3,362.0 837.0,365.5 834.0,368.0 C831.0,370.5 824.4,371.3 822.0,373.0 C819.6,374.7 819.5,375.3 819.7,378.0 C819.9,380.7 821.6,385.1 823.2,389.0" fill="none" stroke="#1c1815" stroke-width="2.05" stroke-linecap="round" stroke-linejoin="round"/>
<path d="M823.2,389.0 C824.9,392.9 828.4,398.9 829.6,401.5 C830.8,404.1 830.8,403.7 830.6,404.6 C830.4,405.5 830.6,404.4 828.2,407.0 C825.8,409.6 818.3,416.8 816.4,420.0 C814.5,423.2 815.4,423.5 817.0,426.0 C818.6,428.5 823.8,431.3 826.0,435.0 C828.2,438.7 830.5,443.5 830.0,448.0 C829.5,452.5 823.2,458.2 823.0,462.0 C822.8,465.8 827.0,468.2 829.0,471.0 C831.0,473.8 834.0,477.7 835.0,479.0" fill="none" stroke="#1c1815" stroke-width="2.25" stroke-linecap="round" stroke-linejoin="round"/>
<path d="M803.0,228.0 C803.3,230.7 804.2,238.7 805.0,244.0 C805.8,249.3 806.3,255.3 807.5,260.0 C808.7,264.7 810.4,268.3 812.0,272.0 C813.6,275.7 816.2,280.3 817.0,282.0" fill="none" stroke="#1c1815" stroke-opacity="0.28" stroke-width="4.4" stroke-dasharray="0.7 0.9" stroke-linecap="butt"/>
<path d="M820.0,278.0 L822.5,278.0" fill="none" stroke="#1c1815" stroke-width="1.15" stroke-linecap="round" stroke-linejoin="round"/>
<path d="M788.0,189.3 C788.6,188.2 790.7,186.1 792.0,184.6 C793.3,183.1 794.6,181.1 796.0,180.2 C797.4,179.2 799.2,178.8 800.2,178.9 C801.2,179.0 802.5,179.6 802.3,180.8 C802.1,182.0 800.0,184.5 798.8,186.0 C797.6,187.5 796.2,188.5 795.0,189.6 C793.8,190.7 792.6,192.5 791.5,192.8 C790.4,193.1 789.2,192.0 788.6,191.4 C788.0,190.8 787.4,190.4 788.0,189.3Z" fill="#1c1815" fill-opacity="1.0"/>
<path d="M801.4,180.2 C802.3,180.6 805.4,181.3 806.6,182.6 C807.8,183.9 808.3,187.1 808.6,188.0" fill="none" stroke="#1c1815" stroke-width="2.55" stroke-linecap="round" stroke-linejoin="round"/>
<path d="M807.3,178.9 L812.7,179.9" fill="none" stroke="#1c1815" stroke-width="1.65" stroke-linecap="round" stroke-linejoin="round"/>
<path d="M809.4,178.9 L809.4,186.0" fill="none" stroke="#1c1815" stroke-width="1.95" stroke-linecap="round" stroke-linejoin="round"/>
<path d="M810.0,190.2 C810.7,189.0 812.5,189.1 814.3,188.7 C816.1,188.3 819.1,187.8 820.6,188.0 C822.1,188.2 823.0,189.2 823.5,190.2 C824.0,191.2 824.2,192.7 823.8,193.8 C823.4,194.9 822.4,196.0 821.3,196.7 C820.2,197.4 818.7,197.9 817.1,198.1 C815.5,198.3 812.7,198.5 811.5,198.1 C810.3,197.7 810.1,197.2 809.9,195.9 C809.6,194.6 809.3,191.4 810.0,190.2Z" fill="#1c1815" fill-opacity="1.0"/>
<path d="M809.3,185.5 C809.1,187.3 809.2,193.5 808.2,196.6 C807.2,199.7 804.9,201.6 803.5,203.8 C802.1,206.0 800.4,208.8 799.8,209.8" fill="none" stroke="#1c1815" stroke-width="3.45" stroke-linecap="round" stroke-linejoin="round"/>
<path d="M801.0,208.5 L801.4,215.0" fill="none" stroke="#1c1815" stroke-width="5.35" stroke-linecap="round" stroke-linejoin="round"/>
<path d="M800.8,214.5 C800.9,215.4 801.4,218.2 801.6,220.0 C801.9,221.8 802.2,224.2 802.3,225.0" fill="none" stroke="#1c1815" stroke-width="2.85" stroke-linecap="round" stroke-linejoin="round"/></g>
<text transform="translate(95.81,775.90) scale(1.0291,1)" font-size="58" font-weight="bold">b</text>
<text transform="translate(96.80,1341.02) rotate(-90) scale(0.9748,1)" font-size="39.7">Relative primary root length (%)</text>
<line x1="263.9" y1="807.2" x2="263.9" y2="1312.0" stroke="#000000" stroke-width="3.0"/>
<line x1="237.6" y1="1310.5" x2="263.9" y2="1310.5" stroke="#000000" stroke-width="3.0"/>
<text transform="translate(208.98,1325.40) scale(0.9630,1)" font-size="40.5">0</text>
<line x1="237.6" y1="1226.8666666666668" x2="263.9" y2="1226.8666666666668" stroke="#000000" stroke-width="3.0"/>
<text transform="translate(187.31,1241.77) scale(0.9630,1)" font-size="40.5">20</text>
<line x1="237.6" y1="1143.2333333333333" x2="263.9" y2="1143.2333333333333" stroke="#000000" stroke-width="3.0"/>
<text transform="translate(187.31,1158.13) scale(0.9630,1)" font-size="40.5">40</text>
<line x1="237.6" y1="1059.6" x2="263.9" y2="1059.6" stroke="#000000" stroke-width="3.0"/>
<text transform="translate(187.31,1074.50) scale(0.9630,1)" font-size="40.5">60</text>
<line x1="237.6" y1="975.9666666666667" x2="263.9" y2="975.9666666666667" stroke="#000000" stroke-width="3.0"/>
<text transform="translate(187.31,990.87) scale(0.9630,1)" font-size="40.5">80</text>
<line x1="237.6" y1="892.3333333333334" x2="263.9" y2="892.3333333333334" stroke="#000000" stroke-width="3.0"/>
<text transform="translate(165.64,907.23) scale(0.9630,1)" font-size="40.5">100</text>
<line x1="237.6" y1="808.7" x2="263.9" y2="808.7" stroke="#000000" stroke-width="3.0"/>
<text transform="translate(165.64,823.60) scale(0.9630,1)" font-size="40.5">120</text>
<line x1="237.6" y1="1310.5" x2="811.6" y2="1310.5" stroke="#000000" stroke-width="2.9"/>
<line x1="346.1" y1="1310.6" x2="346.1" y2="1338.7" stroke="#000000" stroke-width="3.8"/>
<line x1="528.7" y1="1310.6" x2="528.7" y2="1338.7" stroke="#000000" stroke-width="3.8"/>
<line x1="711.3" y1="1310.6" x2="711.3" y2="1338.7" stroke="#000000" stroke-width="3.8"/>
<text transform="translate(335.24,1376.30) scale(0.9600,1)" font-size="40.5">0</text>
<text transform="translate(508.69,1376.30) scale(0.9313,1)" font-size="40.5">10</text>
<text transform="translate(679.71,1376.30) scale(0.9559,1)" font-size="40.5">100</text>
<text transform="translate(344.05,1417.40) scale(1.0025,1)" font-size="39.0"><tspan font-style="italic">t</tspan>Z concentration (nM)</text>
<rect x="306.1" y="882.9" width="43.299999999999955" height="13.5" fill="#ffffff"/>
<line x1="327.75" y1="881.4" x2="327.75" y2="872.8" stroke="#000000" stroke-width="2.5"/>
<circle cx="321.2" cy="873.8" r="7.0" fill="#ffffff" fill-opacity="0.5" stroke="#5a5453" stroke-opacity="0.92" stroke-width="2.0"/>
<circle cx="325.1" cy="896.1" r="7.0" fill="#ffffff" fill-opacity="0.5" stroke="#5a5453" stroke-opacity="0.92" stroke-width="2.0"/>
<circle cx="333.5" cy="894.9" r="7.0" fill="#ffffff" fill-opacity="0.5" stroke="#5a5453" stroke-opacity="0.92" stroke-width="2.0"/>
<circle cx="326.5" cy="884.6" r="7.0" fill="#ffffff" fill-opacity="0.5" stroke="#5a5453" stroke-opacity="0.92" stroke-width="2.0"/>
<circle cx="322.9" cy="921.9" r="7.0" fill="#ffffff" fill-opacity="0.5" stroke="#5a5453" stroke-opacity="0.92" stroke-width="2.0"/>
<rect x="306.1" y="882.9" width="43.299999999999955" height="13.5" fill="none" stroke="#000000" stroke-width="3.0"/>
<line x1="306.1" y1="892.5" x2="349.4" y2="892.5" stroke="#000000" stroke-width="2.8499999999999996"/>
<circle cx="327.7" cy="882.8" r="7.0" fill="#ffffff" fill-opacity="0.5" stroke="#5a5453" stroke-opacity="0.92" stroke-width="2.0"/>
<rect x="360.8" y="882.9" width="43.599999999999966" height="20.300000000000068" fill="#9c9a98"/>
<line x1="382.6" y1="881.4" x2="382.6" y2="873.5" stroke="#000000" stroke-width="2.5"/>
<circle cx="386" cy="873.8" r="7.0" fill="#ffffff" fill-opacity="0.5" stroke="#5a5453" stroke-opacity="0.92" stroke-width="2.0"/>
<circle cx="378.0" cy="883.4" r="7.0" fill="#ffffff" fill-opacity="0.5" stroke="#5a5453" stroke-opacity="0.92" stroke-width="2.0"/>
<circle cx="384.0" cy="882.0" r="7.0" fill="#ffffff" fill-opacity="0.5" stroke="#5a5453" stroke-opacity="0.92" stroke-width="2.0"/>
<circle cx="374.4" cy="894.9" r="7.0" fill="#ffffff" fill-opacity="0.5" stroke="#5a5453" stroke-opacity="0.92" stroke-width="2.0"/>
<circle cx="376.8" cy="903.9" r="7.0" fill="#ffffff" fill-opacity="0.5" stroke="#5a5453" stroke-opacity="0.92" stroke-width="2.0"/>
<rect x="360.8" y="882.9" width="43.599999999999966" height="20.300000000000068" fill="none" stroke="#000000" stroke-width="3.0"/>
<line x1="360.8" y1="894.0" x2="404.4" y2="894.0" stroke="#000000" stroke-width="2.8499999999999996"/>
<circle cx="386.0" cy="906.9" r="7.0" fill="#ffffff" fill-opacity="0.5" stroke="#5a5453" stroke-opacity="0.92" stroke-width="2.0"/>
<rect x="489.3" y="929.1" width="42.69999999999999" height="20.199999999999932" fill="#ffffff"/>
<line x1="510.65" y1="950.8" x2="510.65" y2="959.5" stroke="#000000" stroke-width="2.5"/>
<circle cx="509.1" cy="895.8" r="7.0" fill="#ffffff" fill-opacity="0.5" stroke="#5a5453" stroke-opacity="0.92" stroke-width="2.0"/>
<circle cx="508.9" cy="937.0" r="7.0" fill="#ffffff" fill-opacity="0.5" stroke="#5a5453" stroke-opacity="0.92" stroke-width="2.0"/>
<circle cx="511.4" cy="948.0" r="7.0" fill="#ffffff" fill-opacity="0.5" stroke="#5a5453" stroke-opacity="0.92" stroke-width="2.0"/>
<circle cx="507.7" cy="959.3" r="7.0" fill="#ffffff" fill-opacity="0.5" stroke="#5a5453" stroke-opacity="0.92" stroke-width="2.0"/>
<rect x="489.3" y="929.1" width="42.69999999999999" height="20.199999999999932" fill="none" stroke="#000000" stroke-width="3.0"/>
<line x1="489.3" y1="936.4" x2="532.0" y2="936.4" stroke="#000000" stroke-width="2.8499999999999996"/>
<circle cx="513.7" cy="928.8" r="7.0" fill="#ffffff" fill-opacity="0.5" stroke="#5a5453" stroke-opacity="0.92" stroke-width="2.0"/>
<circle cx="511.0" cy="950.2" r="7.0" fill="#ffffff" fill-opacity="0.5" stroke="#5a5453" stroke-opacity="0.92" stroke-width="2.0"/>
<rect x="544.0" y="883.4" width="43.10000000000002" height="18.399999999999977" fill="#9c9a98"/>
<line x1="565.55" y1="903.3" x2="565.55" y2="911.0" stroke="#000000" stroke-width="2.5"/>
<circle cx="560.9" cy="846.2" r="7.0" fill="#ffffff" fill-opacity="0.5" stroke="#5a5453" stroke-opacity="0.92" stroke-width="2.0"/>
<circle cx="572.0" cy="882.9" r="7.0" fill="#ffffff" fill-opacity="0.5" stroke="#5a5453" stroke-opacity="0.92" stroke-width="2.0"/>
<circle cx="566.0" cy="895.5" r="7.0" fill="#ffffff" fill-opacity="0.5" stroke="#5a5453" stroke-opacity="0.92" stroke-width="2.0"/>
<circle cx="568.4" cy="911.2" r="7.0" fill="#ffffff" fill-opacity="0.5" stroke="#5a5453" stroke-opacity="0.92" stroke-width="2.0"/>
<rect x="544.0" y="883.4" width="43.10000000000002" height="18.399999999999977" fill="none" stroke="#000000" stroke-width="3.0"/>
<line x1="544.0" y1="897.3" x2="587.1" y2="897.3" stroke="#000000" stroke-width="2.8499999999999996"/>
<circle cx="563.6" cy="885.9" r="7.0" fill="#ffffff" fill-opacity="0.5" stroke="#5a5453" stroke-opacity="0.92" stroke-width="2.0"/>
<circle cx="563.0" cy="902.1" r="7.0" fill="#ffffff" fill-opacity="0.5" stroke="#5a5453" stroke-opacity="0.92" stroke-width="2.0"/>
<rect x="671.7" y="1094.4" width="43.59999999999991" height="40.299999999999955" fill="#ffffff"/>
<line x1="693.5" y1="1092.9" x2="693.5" y2="1059.2" stroke="#000000" stroke-width="2.5"/>
<circle cx="692.2" cy="1060.4" r="7.0" fill="#ffffff" fill-opacity="0.5" stroke="#5a5453" stroke-opacity="0.92" stroke-width="2.0"/>
<circle cx="691.3" cy="1094.1" r="7.0" fill="#ffffff" fill-opacity="0.5" stroke="#5a5453" stroke-opacity="0.92" stroke-width="2.0"/>
<circle cx="692.5" cy="1102.5" r="7.0" fill="#ffffff" fill-opacity="0.5" stroke="#5a5453" stroke-opacity="0.92" stroke-width="2.0"/>
<circle cx="693.9" cy="1114.5" r="7.0" fill="#ffffff" fill-opacity="0.5" stroke="#5a5453" stroke-opacity="0.92" stroke-width="2.0"/>
<circle cx="688.6" cy="1138.6" r="7.0" fill="#ffffff" fill-opacity="0.5" stroke="#5a5453" stroke-opacity="0.92" stroke-width="2.0"/>
<rect x="671.7" y="1094.4" width="43.59999999999991" height="40.299999999999955" fill="none" stroke="#000000" stroke-width="3.0"/>
<line x1="671.7" y1="1102.5" x2="715.3" y2="1102.5" stroke="#000000" stroke-width="2.8499999999999996"/>
<circle cx="697.3" cy="1098.9" r="7.0" fill="#ffffff" fill-opacity="0.5" stroke="#5a5453" stroke-opacity="0.92" stroke-width="2.0"/>
<circle cx="698.7" cy="1134.4" r="7.0" fill="#ffffff" fill-opacity="0.5" stroke="#5a5453" stroke-opacity="0.92" stroke-width="2.0"/>
<rect x="726.5" y="944.0" width="43.89999999999998" height="70.60000000000002" fill="#9c9a98"/>
<line x1="748.45" y1="942.5" x2="748.45" y2="885.6" stroke="#000000" stroke-width="2.5"/>
<circle cx="743.3" cy="887.1" r="7.0" fill="#ffffff" fill-opacity="0.5" stroke="#5a5453" stroke-opacity="0.92" stroke-width="2.0"/>
<circle cx="748.7" cy="992.0" r="7.0" fill="#ffffff" fill-opacity="0.5" stroke="#5a5453" stroke-opacity="0.92" stroke-width="2.0"/>
<circle cx="746.3" cy="1008.3" r="7.0" fill="#ffffff" fill-opacity="0.5" stroke="#5a5453" stroke-opacity="0.92" stroke-width="2.0"/>
<circle cx="747.5" cy="1010.5" r="7.0" fill="#ffffff" fill-opacity="0.5" stroke="#5a5453" stroke-opacity="0.92" stroke-width="2.0"/>
<rect x="726.5" y="944.0" width="43.89999999999998" height="70.60000000000002" fill="none" stroke="#000000" stroke-width="3.0"/>
<line x1="726.5" y1="1007.1" x2="770.4" y2="1007.1" stroke="#000000" stroke-width="2.8499999999999996"/>
<circle cx="750.5" cy="943.6" r="7.0" fill="#ffffff" fill-opacity="0.5" stroke="#5a5453" stroke-opacity="0.92" stroke-width="2.0"/>
<circle cx="747.1" cy="1019.1" r="7.0" fill="#ffffff" fill-opacity="0.5" stroke="#5a5453" stroke-opacity="0.92" stroke-width="2.0"/>
<text transform="translate(300.91,837.70)" font-size="39.0">a</text>
<text transform="translate(368.61,831.50)" font-size="39.0">a</text>
<text transform="translate(492.69,868.70)" font-size="39.0">b</text>
<text transform="translate(544.21,821.70)" font-size="39.0">a</text>
<text transform="translate(670.73,1029.30)" font-size="39.0">d</text>
<text transform="translate(707.24,913.10)" font-size="39.0">c</text>
<rect x="302.55" y="1195.55" width="41.800000000000004" height="38.9" fill="#ffffff" stroke="#000000" stroke-width="2.9" stroke-linejoin="round"/>
<rect x="302.55" y="1244.55" width="41.800000000000004" height="38.9" fill="#9c9a98" stroke="#000000" stroke-width="2.9" stroke-linejoin="round"/>
<text transform="translate(377.80,1228.40) scale(0.9997,1)" font-size="39.0">Col-0</text>
<text transform="translate(378.97,1278.20) scale(0.9806,1)" font-size="39.0"><tspan font-style="italic">cepr1</tspan></text>
<text transform="translate(73.61,1488.20) scale(1.0195,1)" font-size="58" font-weight="bold">c</text>
<text transform="translate(116.10,2046.81) rotate(-90) scale(0.9737,1)" font-size="39.7">Relative primary root length (%)</text>
<line x1="233.4" y1="1507.2" x2="233.4" y2="2011.9" stroke="#000000" stroke-width="3.0"/>
<line x1="207.0" y1="2010.4" x2="233.4" y2="2010.4" stroke="#000000" stroke-width="3.0"/>
<text transform="translate(179.88,2024.80) scale(0.9630,1)" font-size="40.5">0</text>
<line x1="207.0" y1="1926.7833333333333" x2="233.4" y2="1926.7833333333333" stroke="#000000" stroke-width="3.0"/>
<text transform="translate(158.21,1941.18) scale(0.9630,1)" font-size="40.5">20</text>
<line x1="207.0" y1="1843.1666666666667" x2="233.4" y2="1843.1666666666667" stroke="#000000" stroke-width="3.0"/>
<text transform="translate(158.21,1857.57) scale(0.9630,1)" font-size="40.5">40</text>
<line x1="207.0" y1="1759.5500000000002" x2="233.4" y2="1759.5500000000002" stroke="#000000" stroke-width="3.0"/>
<text transform="translate(158.21,1773.95) scale(0.9630,1)" font-size="40.5">60</text>
<line x1="207.0" y1="1675.9333333333334" x2="233.4" y2="1675.9333333333334" stroke="#000000" stroke-width="3.0"/>
<text transform="translate(158.21,1690.33) scale(0.9630,1)" font-size="40.5">80</text>
<line x1="207.0" y1="1592.3166666666666" x2="233.4" y2="1592.3166666666666" stroke="#000000" stroke-width="3.0"/>
<text transform="translate(136.54,1606.72) scale(0.9630,1)" font-size="40.5">100</text>
<line x1="207.0" y1="1508.7" x2="233.4" y2="1508.7" stroke="#000000" stroke-width="3.0"/>
<text transform="translate(136.54,1523.10) scale(0.9630,1)" font-size="40.5">120</text>
<line x1="207.0" y1="2010.4" x2="780.9" y2="2010.4" stroke="#000000" stroke-width="2.9"/>
<text transform="translate(319.85,2058.30) scale(1.0232,1)" font-size="39.0">Col-0</text>
<text transform="translate(599.63,2058.30) scale(1.0183,1)" font-size="39.0"><tspan font-style="italic">cepr1</tspan></text>
<rect x="288.40000000000003" y="1583.3999999999999" width="41.39999999999996" height="13.099999999999955" fill="#ffffff"/>
<line x1="309.1" y1="1582.3" x2="309.1" y2="1574.3" stroke="#000000" stroke-width="1.9"/>
<circle cx="302.1" cy="1573.6" r="8.0" fill="#ffffff" fill-opacity="0.5" stroke="#6e6968" stroke-opacity="0.9" stroke-width="2.1"/>
<circle cx="305.8" cy="1594.6" r="8.0" fill="#ffffff" fill-opacity="0.5" stroke="#6e6968" stroke-opacity="0.9" stroke-width="2.1"/>
<circle cx="314.4" cy="1595.4" r="8.0" fill="#ffffff" fill-opacity="0.5" stroke="#6e6968" stroke-opacity="0.9" stroke-width="2.1"/>
<circle cx="307.0" cy="1586.0" r="8.0" fill="#ffffff" fill-opacity="0.5" stroke="#6e6968" stroke-opacity="0.9" stroke-width="2.1"/>
<circle cx="304.3" cy="1622.9" r="8.0" fill="#ffffff" fill-opacity="0.5" stroke="#6e6968" stroke-opacity="0.9" stroke-width="2.1"/>
<line x1="296.0" y1="1574.3" x2="322.20000000000005" y2="1574.3" stroke="#000000" stroke-width="1.9"/>
<rect x="288.40000000000003" y="1583.3999999999999" width="41.39999999999996" height="13.099999999999955" fill="none" stroke="#000000" stroke-width="2.2"/>
<line x1="288.40000000000003" y1="1593.4" x2="329.79999999999995" y2="1593.4" stroke="#000000" stroke-width="2.09"/>
<circle cx="308.4" cy="1582.9" r="8.0" fill="#ffffff" fill-opacity="0.5" stroke="#6e6968" stroke-opacity="0.9" stroke-width="2.1"/>
<rect x="329.6" y="1725.0" width="40.699999999999974" height="14.89999999999991" fill="#d5f3c5"/>
<line x1="349.95" y1="1723.9" x2="349.95" y2="1701.6" stroke="#000000" stroke-width="1.9"/>
<circle cx="352.6" cy="1701.3" r="8.0" fill="#ffffff" fill-opacity="0.5" stroke="#6e6968" stroke-opacity="0.9" stroke-width="2.1"/>
<circle cx="350.3" cy="1723.4" r="8.0" fill="#ffffff" fill-opacity="0.5" stroke="#6e6968" stroke-opacity="0.9" stroke-width="2.1"/>
<circle cx="342.8" cy="1738.5" r="8.0" fill="#ffffff" fill-opacity="0.5" stroke="#6e6968" stroke-opacity="0.9" stroke-width="2.1"/>
<circle cx="344.3" cy="1739.2" r="8.0" fill="#ffffff" fill-opacity="0.5" stroke="#6e6968" stroke-opacity="0.9" stroke-width="2.1"/>
<circle cx="353.3" cy="1740.0" r="8.0" fill="#ffffff" fill-opacity="0.5" stroke="#6e6968" stroke-opacity="0.9" stroke-width="2.1"/>
<circle cx="351.8" cy="1773.8" r="8.0" fill="#ffffff" fill-opacity="0.5" stroke="#6e6968" stroke-opacity="0.9" stroke-width="2.1"/>
<line x1="336.65" y1="1701.6" x2="363.25" y2="1701.6" stroke="#000000" stroke-width="1.9"/>
<rect x="329.6" y="1725.0" width="40.699999999999974" height="14.89999999999991" fill="none" stroke="#000000" stroke-width="2.2"/>
<line x1="329.6" y1="1738.6" x2="370.29999999999995" y2="1738.6" stroke="#000000" stroke-width="2.09"/>
<rect x="370.5" y="1629.6" width="41.40000000000002" height="20.70000000000009" fill="#f9c440"/>
<line x1="391.2" y1="1651.4" x2="391.2" y2="1659.0" stroke="#000000" stroke-width="1.9"/>
<circle cx="390.0" cy="1596.1" r="8.0" fill="#ffffff" fill-opacity="0.5" stroke="#6e6968" stroke-opacity="0.9" stroke-width="2.1"/>
<circle cx="393.0" cy="1629.2" r="8.0" fill="#ffffff" fill-opacity="0.5" stroke="#6e6968" stroke-opacity="0.9" stroke-width="2.1"/>
<circle cx="390.5" cy="1641.0" r="8.0" fill="#ffffff" fill-opacity="0.5" stroke="#6e6968" stroke-opacity="0.9" stroke-width="2.1"/>
<circle cx="388.0" cy="1659.6" r="8.0" fill="#ffffff" fill-opacity="0.5" stroke="#6e6968" stroke-opacity="0.9" stroke-width="2.1"/>
<line x1="378.2" y1="1659.0" x2="404.2" y2="1659.0" stroke="#000000" stroke-width="1.9"/>
<rect x="370.5" y="1629.6" width="41.40000000000002" height="20.70000000000009" fill="none" stroke="#000000" stroke-width="2.2"/>
<line x1="370.5" y1="1637.0" x2="411.9" y2="1637.0" stroke="#000000" stroke-width="2.09"/>
<circle cx="389.2" cy="1637.5" r="8.0" fill="#ffffff" fill-opacity="0.5" stroke="#6e6968" stroke-opacity="0.9" stroke-width="2.1"/>
<circle cx="391.5" cy="1650.2" r="8.0" fill="#ffffff" fill-opacity="0.5" stroke="#6e6968" stroke-opacity="0.9" stroke-width="2.1"/>
<rect x="412.3" y="1766.1999999999998" width="40.20000000000003" height="47.10000000000018" fill="#a4cfe8"/>
<line x1="432.4" y1="1765.1" x2="432.4" y2="1761.0" stroke="#000000" stroke-width="1.9"/>
<line x1="432.4" y1="1814.4" x2="432.4" y2="1814.6" stroke="#000000" stroke-width="1.9"/>
<circle cx="427.7" cy="1760.2" r="8.0" fill="#ffffff" fill-opacity="0.5" stroke="#6e6968" stroke-opacity="0.9" stroke-width="2.1"/>
<circle cx="430.7" cy="1765.5" r="8.0" fill="#ffffff" fill-opacity="0.5" stroke="#6e6968" stroke-opacity="0.9" stroke-width="2.1"/>
<circle cx="430.0" cy="1782.8" r="8.0" fill="#ffffff" fill-opacity="0.5" stroke="#6e6968" stroke-opacity="0.9" stroke-width="2.1"/>
<circle cx="431.5" cy="1803.8" r="8.0" fill="#ffffff" fill-opacity="0.5" stroke="#6e6968" stroke-opacity="0.9" stroke-width="2.1"/>
<circle cx="432.5" cy="1806.5" r="8.0" fill="#ffffff" fill-opacity="0.5" stroke="#6e6968" stroke-opacity="0.9" stroke-width="2.1"/>
<circle cx="436.7" cy="1815.1" r="8.0" fill="#ffffff" fill-opacity="0.5" stroke="#6e6968" stroke-opacity="0.9" stroke-width="2.1"/>
<line x1="419.29999999999995" y1="1761.0" x2="445.5" y2="1761.0" stroke="#000000" stroke-width="1.9"/>
<line x1="419.29999999999995" y1="1814.6" x2="445.5" y2="1814.6" stroke="#000000" stroke-width="1.9"/>
<rect x="412.3" y="1766.1999999999998" width="40.20000000000003" height="47.10000000000018" fill="none" stroke="#000000" stroke-width="2.2"/>
<line x1="412.3" y1="1803.8" x2="452.5" y2="1803.8" stroke="#000000" stroke-width="2.09"/>
<rect x="562.1" y="1583.3" width="40.09999999999995" height="19.89999999999991" fill="#ffffff"/>
<line x1="582.15" y1="1582.2" x2="582.15" y2="1574.8" stroke="#000000" stroke-width="1.9"/>
<line x1="582.15" y1="1604.3" x2="582.15" y2="1606.6" stroke="#000000" stroke-width="1.9"/>
<circle cx="581.4" cy="1574.2" r="8.0" fill="#ffffff" fill-opacity="0.5" stroke="#6e6968" stroke-opacity="0.9" stroke-width="2.1"/>
<circle cx="582.7" cy="1582.2" r="8.0" fill="#ffffff" fill-opacity="0.5" stroke="#6e6968" stroke-opacity="0.9" stroke-width="2.1"/>
<circle cx="586.6" cy="1593.3" r="8.0" fill="#ffffff" fill-opacity="0.5" stroke="#6e6968" stroke-opacity="0.9" stroke-width="2.1"/>
<circle cx="580.5" cy="1600.0" r="8.0" fill="#ffffff" fill-opacity="0.5" stroke="#6e6968" stroke-opacity="0.9" stroke-width="2.1"/>
<circle cx="588.1" cy="1603.8" r="8.0" fill="#ffffff" fill-opacity="0.5" stroke="#6e6968" stroke-opacity="0.9" stroke-width="2.1"/>
<circle cx="581.4" cy="1606.2" r="8.0" fill="#ffffff" fill-opacity="0.5" stroke="#6e6968" stroke-opacity="0.9" stroke-width="2.1"/>
<line x1="569.35" y1="1574.8" x2="594.9499999999999" y2="1574.8" stroke="#000000" stroke-width="1.9"/>
<line x1="569.35" y1="1606.6" x2="594.9499999999999" y2="1606.6" stroke="#000000" stroke-width="1.9"/>
<rect x="562.1" y="1583.3" width="40.09999999999995" height="19.89999999999991" fill="none" stroke="#000000" stroke-width="2.2"/>
<line x1="562.1" y1="1595.2" x2="602.1999999999999" y2="1595.2" stroke="#000000" stroke-width="2.09"/>
<rect x="603.5" y="1578.8" width="40.600000000000065" height="6.699999999999863" fill="#d5f3c5"/>
<line x1="623.8" y1="1577.7" x2="623.8" y2="1576.6" stroke="#000000" stroke-width="1.9"/>
<line x1="623.8" y1="1586.6" x2="623.8" y2="1592.7" stroke="#000000" stroke-width="1.9"/>
<circle cx="621.8" cy="1575.0" r="8.0" fill="#ffffff" fill-opacity="0.5" stroke="#6e6968" stroke-opacity="0.9" stroke-width="2.1"/>
<circle cx="623.3" cy="1577.1" r="8.0" fill="#ffffff" fill-opacity="0.5" stroke="#6e6968" stroke-opacity="0.9" stroke-width="2.1"/>
<circle cx="625.0" cy="1579.5" r="8.0" fill="#ffffff" fill-opacity="0.5" stroke="#6e6968" stroke-opacity="0.9" stroke-width="2.1"/>
<circle cx="621.4" cy="1581.9" r="8.0" fill="#ffffff" fill-opacity="0.5" stroke="#6e6968" stroke-opacity="0.9" stroke-width="2.1"/>
<circle cx="622.0" cy="1587.5" r="8.0" fill="#ffffff" fill-opacity="0.5" stroke="#6e6968" stroke-opacity="0.9" stroke-width="2.1"/>
<circle cx="620.4" cy="1593.3" r="8.0" fill="#ffffff" fill-opacity="0.5" stroke="#6e6968" stroke-opacity="0.9" stroke-width="2.1"/>
<line x1="611.0" y1="1576.6" x2="636.5999999999999" y2="1576.6" stroke="#000000" stroke-width="1.9"/>
<line x1="611.0" y1="1592.7" x2="636.5999999999999" y2="1592.7" stroke="#000000" stroke-width="1.9"/>
<rect x="603.5" y="1578.8" width="40.600000000000065" height="6.699999999999863" fill="none" stroke="#000000" stroke-width="2.2"/>
<line x1="603.5" y1="1581.9" x2="644.1" y2="1581.9" stroke="#000000" stroke-width="2.09"/>
<rect x="644.8000000000001" y="1584.8999999999999" width="39.699999999999974" height="17.20000000000009" fill="#f9c440"/>
<line x1="664.6500000000001" y1="1603.2" x2="664.6500000000001" y2="1611.4" stroke="#000000" stroke-width="1.9"/>
<circle cx="662.3" cy="1547.2" r="8.0" fill="#ffffff" fill-opacity="0.5" stroke="#6e6968" stroke-opacity="0.9" stroke-width="2.1"/>
<circle cx="665.2" cy="1583.8" r="8.0" fill="#ffffff" fill-opacity="0.5" stroke="#6e6968" stroke-opacity="0.9" stroke-width="2.1"/>
<circle cx="662.3" cy="1586.6" r="8.0" fill="#ffffff" fill-opacity="0.5" stroke="#6e6968" stroke-opacity="0.9" stroke-width="2.1"/>
<circle cx="671.8" cy="1597.1" r="8.0" fill="#ffffff" fill-opacity="0.5" stroke="#6e6968" stroke-opacity="0.9" stroke-width="2.1"/>
<circle cx="664.2" cy="1603.8" r="8.0" fill="#ffffff" fill-opacity="0.5" stroke="#6e6968" stroke-opacity="0.9" stroke-width="2.1"/>
<circle cx="670.3" cy="1612.3" r="8.0" fill="#ffffff" fill-opacity="0.5" stroke="#6e6968" stroke-opacity="0.9" stroke-width="2.1"/>
<line x1="651.95" y1="1611.4" x2="677.3500000000001" y2="1611.4" stroke="#000000" stroke-width="1.9"/>
<rect x="644.8000000000001" y="1584.8999999999999" width="39.699999999999974" height="17.20000000000009" fill="none" stroke="#000000" stroke-width="2.2"/>
<line x1="644.8000000000001" y1="1597.7" x2="684.5" y2="1597.7" stroke="#000000" stroke-width="2.09"/>
<rect x="685.9" y="1576.8999999999999" width="40.40000000000002" height="26.70000000000009" fill="#a4cfe8"/>
<line x1="706.0999999999999" y1="1575.8" x2="706.0999999999999" y2="1554.3" stroke="#000000" stroke-width="1.9"/>
<line x1="706.0999999999999" y1="1604.7" x2="706.0999999999999" y2="1613.8" stroke="#000000" stroke-width="1.9"/>
<circle cx="706.5" cy="1553.7" r="8.0" fill="#ffffff" fill-opacity="0.5" stroke="#6e6968" stroke-opacity="0.9" stroke-width="2.1"/>
<circle cx="716.6" cy="1575.2" r="8.0" fill="#ffffff" fill-opacity="0.5" stroke="#6e6968" stroke-opacity="0.9" stroke-width="2.1"/>
<circle cx="702.3" cy="1583.8" r="8.0" fill="#ffffff" fill-opacity="0.5" stroke="#6e6968" stroke-opacity="0.9" stroke-width="2.1"/>
<circle cx="697.5" cy="1586.6" r="8.0" fill="#ffffff" fill-opacity="0.5" stroke="#6e6968" stroke-opacity="0.9" stroke-width="2.1"/>
<circle cx="711.8" cy="1595.2" r="8.0" fill="#ffffff" fill-opacity="0.5" stroke="#6e6968" stroke-opacity="0.9" stroke-width="2.1"/>
<circle cx="708.0" cy="1603.8" r="8.0" fill="#ffffff" fill-opacity="0.5" stroke="#6e6968" stroke-opacity="0.9" stroke-width="2.1"/>
<circle cx="705.2" cy="1614.2" r="8.0" fill="#ffffff" fill-opacity="0.5" stroke="#6e6968" stroke-opacity="0.9" stroke-width="2.1"/>
<line x1="693.0999999999999" y1="1554.3" x2="719.0999999999999" y2="1554.3" stroke="#000000" stroke-width="1.9"/>
<line x1="693.0999999999999" y1="1613.8" x2="719.0999999999999" y2="1613.8" stroke="#000000" stroke-width="1.9"/>
<rect x="685.9" y="1576.8999999999999" width="40.40000000000002" height="26.70000000000009" fill="none" stroke="#000000" stroke-width="2.2"/>
<line x1="685.9" y1="1586.6" x2="726.3" y2="1586.6" stroke="#000000" stroke-width="2.09"/>
<text transform="translate(296.11,1552.50)" font-size="39.0">a</text>
<text transform="translate(380.69,1578.00)" font-size="39.0">b</text>
<text transform="translate(340.84,1675.00)" font-size="39.0">c</text>
<text transform="translate(422.62,1739.10)" font-size="39.0">d</text>
<text transform="translate(566.41,1554.80)" font-size="39.0">a</text>
<text transform="translate(614.61,1553.00)" font-size="39.0">a</text>
<text transform="translate(651.41,1525.30)" font-size="39.0">a</text>
<text transform="translate(695.41,1531.00)" font-size="39.0">a</text>
<rect x="754.15" y="1683.45" width="42.1" height="39.7" fill="#ffffff" stroke="#000000" stroke-width="3.3" stroke-linejoin="round"/>
<rect x="754.15" y="1732.15" width="42.1" height="39.7" fill="#d6f5c6" stroke="#000000" stroke-width="3.3" stroke-linejoin="round"/>
<rect x="754.15" y="1780.8500000000001" width="42.1" height="39.7" fill="#ee8d0a" stroke="#000000" stroke-width="3.3" stroke-linejoin="round"/>
<rect x="754.15" y="1829.5500000000002" width="42.1" height="39.7" fill="#5a9aca" stroke="#000000" stroke-width="3.3" stroke-linejoin="round"/>
<text transform="translate(818.77,1716.00) scale(1.0002,1)" font-size="39.0">control</text>
<text transform="translate(818.81,1765.10) scale(0.9944,1)" font-size="39.0">CEP3</text>
<text transform="translate(819.01,1813.70) scale(1.0205,1)" font-size="39.0"><tspan font-style="italic">t</tspan>Z</text>
<text transform="translate(818.79,1862.20) scale(1.0053,1)" font-size="39.0">CEP3 + <tspan font-style="italic">t</tspan>Z</text>
</svg>
</body>
</html>
